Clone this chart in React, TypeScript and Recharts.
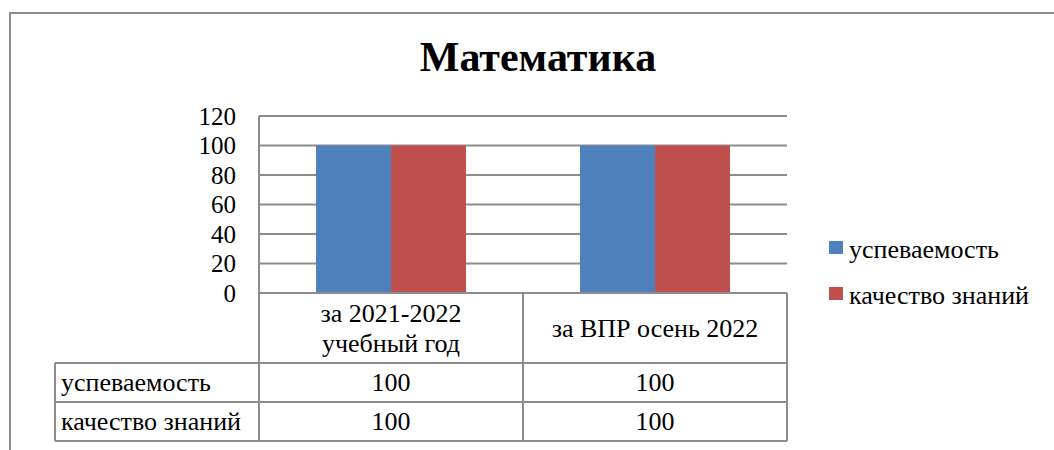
import React from 'react';
import { BarChart, Bar, XAxis, YAxis, CartesianGrid, Legend } from 'recharts';

const categories = ['за 2021-2022\nучебный год', 'за ВПР осень 2022'];
const seriesNames = ['успеваемость', 'качество знаний'];
const uspevaemost = [100, 100];
const kachestvo = [100, 100];
const yTicks = [0, 20, 40, 60, 80, 100, 120];

const COLORS = ['#4F81BD', '#C0504D'];
const GRID = '#8c8c8c';
const FONT = '"Liberation Serif", "Times New Roman", serif';
const TXT = 26;

const W = 1054;
const H = 450;
const MARGIN = { top: 116, right: 267, bottom: 9, left: 199 };
const Y_AXIS_W = 60;
const X_AXIS_H = 148;

const PLOT_LEFT = MARGIN.left + Y_AXIS_W;
const PLOT_RIGHT = W - MARGIN.right;
const AXIS_Y = H - MARGIN.bottom - X_AXIS_H;
const BAND = (PLOT_RIGHT - PLOT_LEFT) / categories.length;
const ROW_H = [70, 39, 39];
const LABEL_LEFT = 55;

const data = categories.map((c, i) => ({
  category: c,
  [seriesNames[0]]: uspevaemost[i],
  [seriesNames[1]]: kachestvo[i],
}));

// each category tick draws its own column of the data table
const TableColumn = (props: any) => {
  const { x, payload, index } = props;
  const left = x - BAND / 2;
  const right = x + BAND / 2;
  const r1 = AXIS_Y + ROW_H[0];
  const r2 = r1 + ROW_H[1];
  const r3 = r2 + ROW_H[2];
  const lines = String(payload.value).split('\n');
  const headMid = AXIS_Y + ROW_H[0] / 2;
  const lineH = 30;
  const firstBase = headMid + 9 - ((lines.length - 1) * lineH) / 2;
  const row = data[index];
  const lineStyle = { stroke: GRID, strokeWidth: 2 };
  return (
    <g>
      {index === 0 && (
        <g>
          <line x1={left} x2={left} y1={AXIS_Y} y2={r3} {...lineStyle} />
          <line x1={LABEL_LEFT} x2={left} y1={r1} y2={r1} {...lineStyle} />
          <line x1={LABEL_LEFT} x2={left} y1={r2} y2={r2} {...lineStyle} />
          <line x1={LABEL_LEFT} x2={left} y1={r3} y2={r3} {...lineStyle} />
          <line x1={LABEL_LEFT} x2={LABEL_LEFT} y1={r1} y2={r3} {...lineStyle} />
          {seriesNames.map((s, i) => (
            <text
              key={s}
              x={LABEL_LEFT + 6}
              y={(i === 0 ? r1 : r2) + 28}
              fontSize={TXT}
              fontFamily={FONT}
              fill="#000"
            >
              {s}
            </text>
          ))}
        </g>
      )}
      <line x1={right} x2={right} y1={AXIS_Y} y2={r3} {...lineStyle} />
      <line x1={left} x2={right} y1={r1} y2={r1} {...lineStyle} />
      <line x1={left} x2={right} y1={r2} y2={r2} {...lineStyle} />
      <line x1={left} x2={right} y1={r3} y2={r3} {...lineStyle} />
      <text
        x={x}
        y={firstBase}
        textAnchor="middle"
        fontSize={TXT}
        fontFamily={FONT}
        fill="#000"
      >
        {lines.map((l, i) => (
          <tspan key={i} x={x} dy={i === 0 ? 0 : lineH}>
            {l}
          </tspan>
        ))}
      </text>
      {seriesNames.map((s, i) => (
        <text
          key={s}
          x={x}
          y={(i === 0 ? r1 : r2) + 28}
          textAnchor="middle"
          fontSize={TXT}
          fontFamily={FONT}
          fill="#000"
        >
          {row[s]}
        </text>
      ))}
    </g>
  );
};

const LegendContent = () => (
  <svg width={225} height={80} style={{ overflow: 'visible' }}>
    {seriesNames.map((s, i) => (
      <g key={s}>
        <rect x={0} y={5 + i * 46} width={14} height={13} fill={COLORS[i]} />
        <text x={20} y={22 + i * 46} fontSize={TXT} fontFamily={FONT} fill="#000">
          {s}
        </text>
      </g>
    ))}
  </svg>
);

export default function App() {
  return (
    <div
      style={{
        position: 'absolute',
        left: 0,
        top: 0,
        width: W,
        height: H,
        overflow: 'hidden',
        background: '#fff',
        fontFamily: FONT,
      }}
    >
      <div
        style={{
          position: 'absolute',
          left: 9,
          top: 12,
          width: 1200,
          height: 600,
          border: `2px solid ${GRID}`,
        }}
      />
      <svg
        width={W}
        height={100}
        style={{ position: 'absolute', left: 0, top: 0 }}
      >
        <text
          x={538}
          y={71}
          textAnchor="middle"
          fontSize={42}
          fontWeight="bold"
          fontFamily={FONT}
          fill="#000"
        >
          Математика
        </text>
      </svg>
      <div style={{ position: 'absolute', left: 0, top: 0 }}>
        <BarChart
          width={W}
          height={H}
          data={data}
          margin={MARGIN}
          barCategoryGap="21.6%"
          barGap={0}
        >
          <CartesianGrid vertical={false} stroke={GRID} strokeWidth={2} />
          <XAxis
            dataKey="category"
            height={X_AXIS_H}
            interval={0}
            tickLine={false}
            axisLine={{ stroke: GRID, strokeWidth: 2 }}
            tick={<TableColumn />}
          />
          <YAxis
            width={Y_AXIS_W}
            domain={[0, 120]}
            ticks={yTicks}
            interval={0}
            tickLine={false}
            tickMargin={17}
            axisLine={{ stroke: GRID, strokeWidth: 2 }}
            tick={{ fontSize: 25, fontFamily: FONT, fill: '#000' }}
          />
          <Legend
            layout="vertical"
            align="center"
            verticalAlign="middle"
            wrapperStyle={{ left: 829, top: 236, width: 225 }}
            content={<LegendContent />}
          />
          {seriesNames.map((s, i) => (
            <Bar key={s} dataKey={s} fill={COLORS[i]} isAnimationActive={false} />
          ))}
        </BarChart>
      </div>
    </div>
  );
}
